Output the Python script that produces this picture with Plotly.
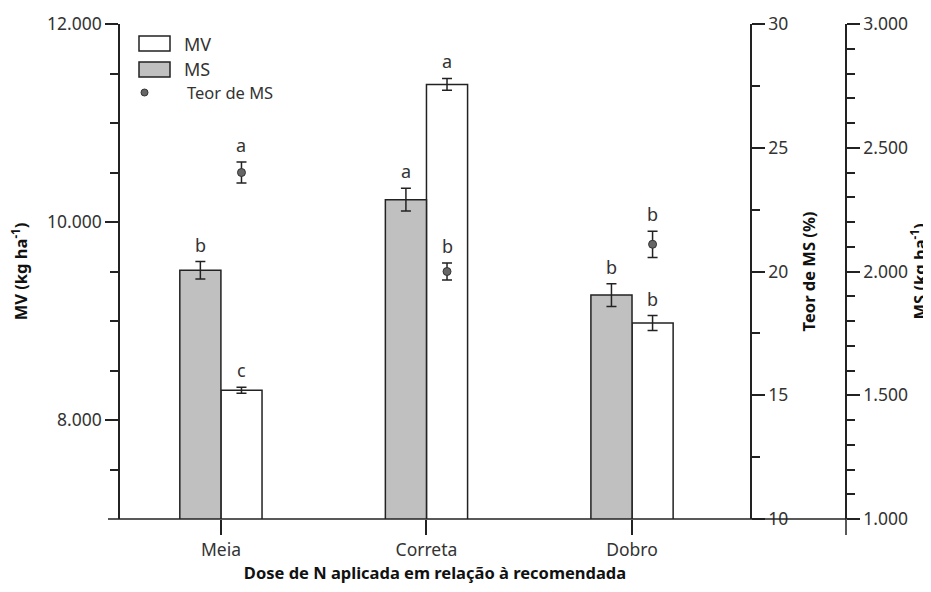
import plotly.graph_objects as go

# ---- data ----
categories = ["Meia", "Correta", "Dobro"]
mv_values = [8300, 11390, 8980]          # MV (kg/ha), left axis
mv_errors = [30, 60, 75]
mv_letters = ["c", "a", "b"]
ms_values = [2005, 2290, 1905]           # MS (kg/ha), far right axis
ms_errors = [35, 46, 46]
ms_letters = ["b", "a", "b"]
teor_values = [24.0, 20.0, 21.1]         # Teor de MS (%), inner right axis
teor_errors = [0.42, 0.34, 0.53]
teor_letters = ["a", "b", "b"]

mv_ticks = [8000, 10000, 12000]
mv_ticktext = ["8.000", "10.000", "12.000"]
teor_ticks = [10, 15, 20, 25, 30]
ms_ticks = [1000, 1500, 2000, 2500, 3000]
ms_ticktext = ["1.000", "1.500", "2.000", "2.500", "3.000"]

# ---- layout geometry (pixels; page body has an 8px margin) ----
OFF = 8
W, H = 931 - OFF, 592 - OFF
L, T = 120 - OFF, 24 - OFF
R = W - (846 - OFF)
B = H - (519 - OFF)
PW, PH = W - L - R, H - T - B
XDOM = (750 - 120) / PW
FONT = "Noto Sans"
TXT = "#333333"
LINE = "#222222"
BW = 0.2

xpos = list(range(len(categories)))
ms_x = [i - BW / 2 for i in xpos]
mv_x = [i + BW / 2 for i in xpos]

def px(x):
    return (x - OFF - L) / PW

def py(y):
    return (T + PH - (y - OFF)) / PH

err_style = dict(type="data", color=LINE, thickness=1.5, width=5)

fig = go.Figure()
fig.add_trace(go.Bar(x=xpos, y=ms_values, width=BW, offset=-BW, yaxis="y3", xaxis="x",
                     marker=dict(color="#c0c0c0", line=dict(color=LINE, width=1.5)),
                     error_y=dict(array=ms_errors, **err_style), name="MS", showlegend=False))
fig.add_trace(go.Bar(x=xpos, y=mv_values, width=BW, offset=0, yaxis="y", xaxis="x",
                     marker=dict(color="white", line=dict(color=LINE, width=1.5)),
                     error_y=dict(array=mv_errors, **err_style), name="MV", showlegend=False))
fig.add_trace(go.Scatter(x=mv_x, y=teor_values, yaxis="y2", xaxis="x", mode="markers",
                         marker=dict(size=8, color="#666666", line=dict(color="#333333", width=1)),
                         error_y=dict(array=teor_errors, **err_style), name="Teor de MS",
                         showlegend=False))

ann = []
lf = dict(family=FONT, size=18, color=TXT)
for i in xpos:
    ann.append(dict(x=ms_x[i], y=ms_values[i] + ms_errors[i], xref="x", yref="y3",
                    text=ms_letters[i], showarrow=False, yanchor="bottom", yshift=3, font=lf))
    ann.append(dict(x=mv_x[i], y=mv_values[i] + mv_errors[i], xref="x", yref="y",
                    text=mv_letters[i], showarrow=False, yanchor="bottom", yshift=3, font=lf))
    ann.append(dict(x=mv_x[i], y=teor_values[i] + teor_errors[i], xref="x", yref="y2",
                    text=teor_letters[i], showarrow=False, yanchor="bottom", yshift=3, font=lf))

# manual legend
legf = dict(family=FONT, size=18, color=TXT)
ann += [
    dict(x=px(182), y=py(44), xref="paper", yref="paper", text="MV", showarrow=False,
         xanchor="left", yanchor="middle", font=legf),
    dict(x=px(182), y=py(69), xref="paper", yref="paper", text="MS", showarrow=False,
         xanchor="left", yanchor="middle", font=legf),
    dict(x=px(185), y=py(92), xref="paper", yref="paper", text="Teor de MS", showarrow=False,
         xanchor="left", yanchor="middle", font=dict(family=FONT, size=16.5, color=TXT)),
]
shapes = [
    dict(type="rect", xref="paper", yref="paper", x0=px(139), x1=px(170), y0=py(51), y1=py(36),
         fillcolor="white", line=dict(color=LINE, width=1.5)),
    dict(type="rect", xref="paper", yref="paper", x0=px(139), x1=px(170), y0=py(77), y1=py(62),
         fillcolor="#c0c0c0", line=dict(color=LINE, width=1.5)),
    dict(type="circle", xref="paper", yref="paper", x0=px(141), x1=px(148), y0=py(96), y1=py(89),
         fillcolor="#666666", line=dict(color="#333333", width=1)),
    # bottom axis line spanning to the far right axis
    dict(type="line", xref="paper", yref="paper", x0=px(108), x1=1, y0=0, y1=0,
         line=dict(color=LINE, width=1.5)),
    dict(type="line", xref="paper", yref="paper", x0=1, x1=1, y0=0, y1=py(535),
         line=dict(color=LINE, width=1.5)),
]

tickf = dict(family=FONT, size=17.5, color=TXT)
titf = dict(family=FONT, size=16.5, color="#111111", weight="bold")

fig.update_layout(
    width=W, height=H,
    margin=dict(l=L, r=R, t=T, b=B, autoexpand=False),
    paper_bgcolor="white", plot_bgcolor="white",
    barmode="overlay",
    showlegend=False,
    font=dict(family=FONT, color=TXT),
    xaxis=dict(domain=[0, XDOM], range=[-0.491, 2.574], tickvals=xpos, ticktext=categories,
               ticks="outside", ticklen=15, tickwidth=1.5, tickcolor=LINE, showline=False,
               showgrid=False, zeroline=False, tickfont=tickf, automargin=False,
               title=dict(text="Dose de N aplicada em relação à recomendada", font=titf, standoff=6)),
    yaxis=dict(range=[7000, 12000], tickvals=mv_ticks, ticktext=mv_ticktext, ticks="outside",
               ticklen=13, tickwidth=1.5, tickcolor=LINE, showline=True, linecolor=LINE,
               linewidth=1.5, showgrid=False, zeroline=False, tickfont=tickf, automargin=False,
               minor=dict(tickvals=list(range(7500, 12001, 500)), ticks="outside", ticklen=8,
                          tickwidth=1.5, tickcolor=LINE),
               title=dict(text="MV (kg ha<sup>-1</sup>)", font=titf, standoff=15)),
    yaxis2=dict(overlaying="y", side="right", anchor="x", range=[10, 30], tickvals=teor_ticks,
                ticks="outside", ticklen=13, tickwidth=1.5, tickcolor=LINE, showline=True,
                linecolor=LINE, linewidth=1.5, showgrid=False, zeroline=False, tickfont=tickf,
                automargin=False,
                minor=dict(tickvals=[12.5, 17.5, 22.5, 27.5], ticks="outside", ticklen=8,
                           tickwidth=1.5, tickcolor=LINE),
                title=dict(text="Teor de MS (%)", font=titf, standoff=16)),
    yaxis3=dict(overlaying="y", side="right", anchor="free", position=1, range=[1000, 3000],
                tickvals=ms_ticks, ticktext=ms_ticktext, ticks="outside", ticklen=13,
                tickwidth=1.5, tickcolor=LINE, showline=True, linecolor=LINE, linewidth=1.5,
                showgrid=False, zeroline=False, tickfont=tickf, automargin=False,
                minor=dict(tickvals=list(range(1100, 3000, 100)), ticks="outside", ticklen=8,
                           tickwidth=1.5, tickcolor=LINE),
                title=dict(text="MS (kg ha<sup>-1</sup>)", font=titf, standoff=9)),
    annotations=ann,
    shapes=shapes,
)

fig.write_html("out.html")
